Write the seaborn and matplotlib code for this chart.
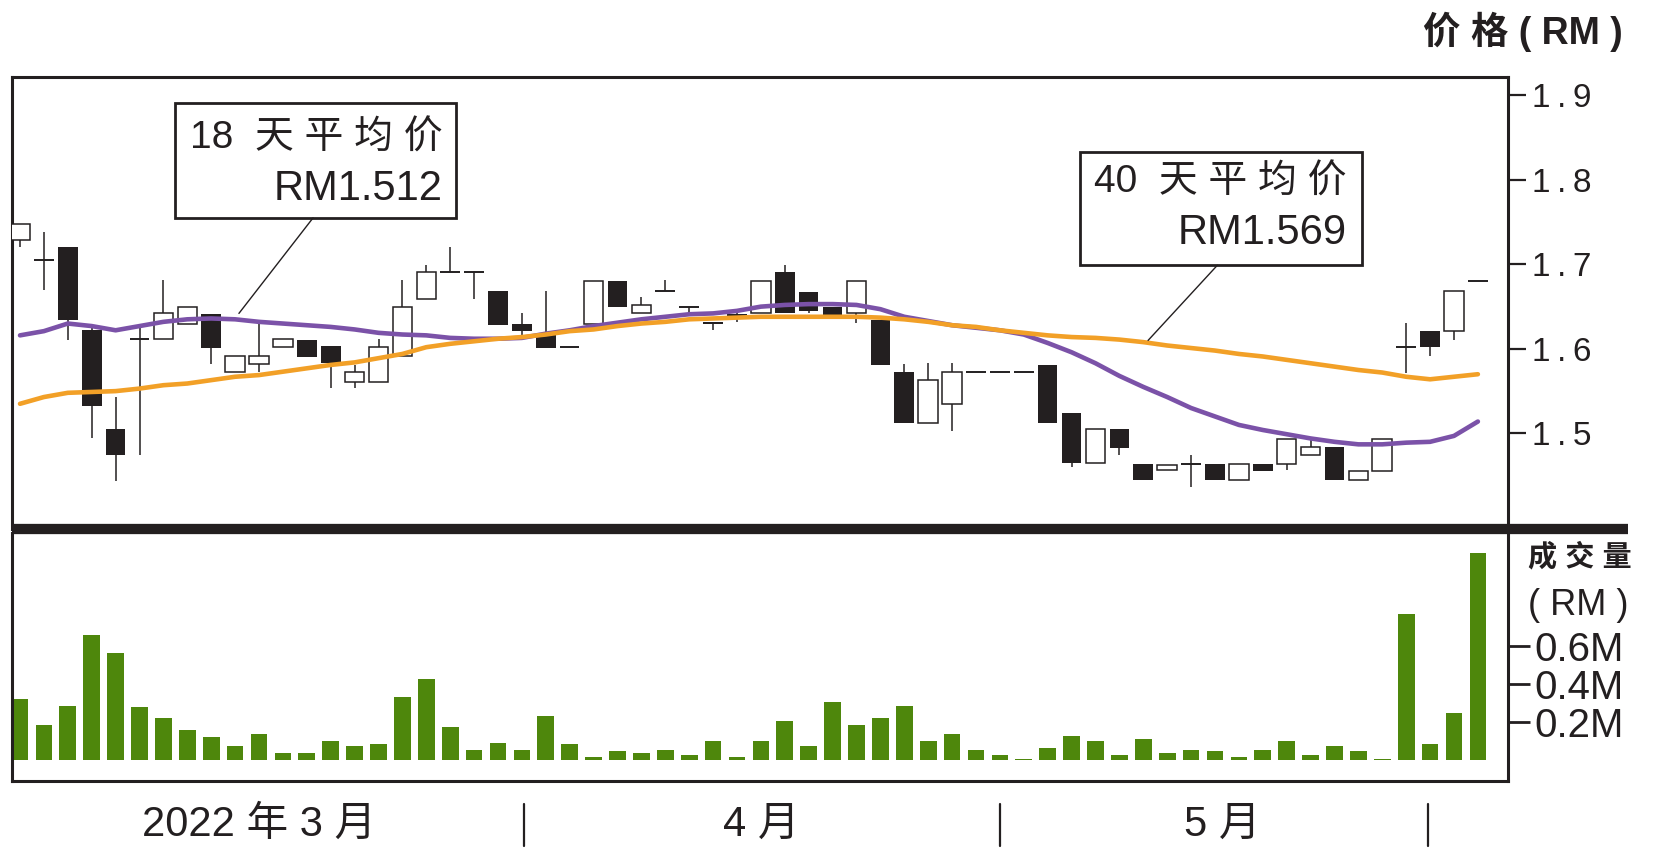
import matplotlib
matplotlib.use('Agg')
import matplotlib.pyplot as plt
import matplotlib.transforms as mtransforms
from matplotlib.lines import Line2D
from matplotlib.patches import Rectangle
import seaborn as sns
import numpy as np

# ---- data ----
open_ = [1.729, 1.705, 1.720, 1.622, 1.505, 1.612, 1.612, 1.629, 1.641, 1.573,
         1.582, 1.602, 1.611, 1.603, 1.561, 1.561, 1.592, 1.659, 1.691, 1.691,
         1.669, 1.630, 1.616, 1.602, 1.630, 1.680, 1.642, 1.669, 1.650, 1.632,
         1.640, 1.642, 1.691, 1.667, 1.650, 1.642, 1.634, 1.573, 1.512, 1.535,
         1.573, 1.573, 1.573, 1.581, 1.524, 1.465, 1.505, 1.464, 1.457, 1.464,
         1.464, 1.445, 1.464, 1.464, 1.474, 1.484, 1.445, 1.456, 1.602, 1.621,
         1.621, 1.680]
high = [1.748, 1.738, 1.720, 1.627, 1.543, 1.628, 1.681, 1.650, 1.641, 1.592,
        1.631, 1.612, 1.611, 1.603, 1.581, 1.612, 1.681, 1.699, 1.721, 1.691,
        1.669, 1.642, 1.669, 1.602, 1.680, 1.680, 1.661, 1.681, 1.650, 1.632,
        1.646, 1.680, 1.699, 1.667, 1.650, 1.680, 1.634, 1.582, 1.583, 1.583,
        1.573, 1.573, 1.573, 1.581, 1.524, 1.505, 1.505, 1.464, 1.463, 1.474,
        1.464, 1.464, 1.464, 1.493, 1.493, 1.484, 1.456, 1.493, 1.631, 1.621,
        1.669, 1.680]
low = [1.721, 1.670, 1.611, 1.494, 1.444, 1.474, 1.612, 1.629, 1.582, 1.573,
       1.573, 1.602, 1.590, 1.554, 1.554, 1.561, 1.592, 1.659, 1.691, 1.659,
       1.628, 1.612, 1.601, 1.602, 1.630, 1.650, 1.642, 1.669, 1.642, 1.622,
       1.632, 1.642, 1.642, 1.642, 1.640, 1.631, 1.581, 1.512, 1.512, 1.503,
       1.573, 1.573, 1.573, 1.512, 1.460, 1.465, 1.474, 1.445, 1.457, 1.437,
       1.445, 1.445, 1.456, 1.457, 1.474, 1.445, 1.445, 1.456, 1.571, 1.592,
       1.611, 1.680]
close = [1.748, 1.705, 1.634, 1.532, 1.474, 1.612, 1.642, 1.650, 1.601, 1.592,
         1.592, 1.612, 1.590, 1.583, 1.573, 1.602, 1.650, 1.691, 1.691, 1.691,
         1.628, 1.621, 1.601, 1.602, 1.680, 1.650, 1.652, 1.669, 1.650, 1.629,
         1.640, 1.680, 1.642, 1.645, 1.640, 1.680, 1.581, 1.512, 1.563, 1.573,
         1.573, 1.573, 1.573, 1.512, 1.465, 1.505, 1.483, 1.445, 1.463, 1.464,
         1.445, 1.464, 1.456, 1.493, 1.484, 1.445, 1.456, 1.493, 1.602, 1.602,
         1.669, 1.680]
ma18 = [1.616, 1.621, 1.630, 1.627, 1.622, 1.627, 1.632, 1.635, 1.636, 1.635,
        1.632, 1.630, 1.628, 1.626, 1.623, 1.619, 1.617, 1.616, 1.613, 1.612,
        1.612, 1.613, 1.618, 1.622, 1.627, 1.631, 1.635, 1.638, 1.641, 1.642,
        1.645, 1.650, 1.652, 1.653, 1.653, 1.652, 1.647, 1.638, 1.633, 1.628,
        1.625, 1.622, 1.617, 1.607, 1.596, 1.583, 1.568, 1.555, 1.543, 1.530,
        1.520, 1.510, 1.504, 1.499, 1.494, 1.490, 1.487, 1.487, 1.489, 1.490,
        1.497, 1.514]
ma40 = [1.535, 1.543, 1.548, 1.549, 1.550, 1.553, 1.557, 1.559, 1.563, 1.567,
        1.569, 1.573, 1.577, 1.581, 1.584, 1.589, 1.594, 1.602, 1.606, 1.609,
        1.612, 1.614, 1.617, 1.621, 1.623, 1.627, 1.630, 1.632, 1.635, 1.636,
        1.637, 1.638, 1.638, 1.638, 1.638, 1.638, 1.637, 1.635, 1.632, 1.628,
        1.626, 1.622, 1.619, 1.616, 1.614, 1.613, 1.611, 1.608, 1.604, 1.601,
        1.598, 1.594, 1.591, 1.587, 1.583, 1.579, 1.575, 1.572, 1.567, 1.564,
        1.567, 1.570]
volume = [0.321, 0.184, 0.286, 0.658, 0.565, 0.279, 0.221, 0.158, 0.121, 0.074,
          0.139, 0.035, 0.037, 0.102, 0.074, 0.084, 0.332, 0.428, 0.174, 0.054,
          0.091, 0.054, 0.232, 0.084, 0.018, 0.047, 0.037, 0.054, 0.028, 0.102,
          0.018, 0.102, 0.205, 0.074, 0.307, 0.184, 0.221, 0.286, 0.102, 0.139,
          0.054, 0.028, 0.004, 0.063, 0.128, 0.102, 0.026, 0.111, 0.037, 0.054,
          0.047, 0.018, 0.054, 0.102, 0.026, 0.074, 0.047, 0.007, 0.768, 0.084,
          0.247, 1.089]
price_ticks = [1.5, 1.6, 1.7, 1.8, 1.9]
price_labels = ['1.5', '1.6', '1.7', '1.8', '1.9']
vol_ticks = [0.2, 0.4, 0.6]
vol_labels = ['0.2M', '0.4M', '0.6M']
month_labels = ['2022 年 3 月', '4 月', '5 月']
month_pos = [10.0, 31.0, 50.3]
month_breaks = [21.1, 41.0, 58.9]

dark = '#231f20'
purple = '#7b52a8'
orange = '#f2a027'
green = '#4e870c'

sns.set_style('white')
plt.rcParams['font.family'] = ['Liberation Sans', 'Noto Sans CJK SC']

fig = plt.figure(figsize=(16.55, 8.55), dpi=100)
W, H = 1655.0, 855.0
x_left, x_right = 12, 1508
ax_p = fig.add_axes([x_left / W, 1 - 528.5 / H, (x_right - x_left) / W, (528.5 - 77) / H])
ax_v = fig.add_axes([x_left / W, 1 - 781 / H, (x_right - x_left) / W, (781 - 533) / H])

xs = np.arange(len(open_))
o = np.array(open_)
c = np.array(close)
hi = np.array(high)
lo = np.array(low)
body_lo = np.minimum(o, c)
body_hi = np.maximum(o, c)
up = c > o
down = c < o
flat = c == o
bw = 0.82

# candles
ax_p.vlines(xs, lo, hi, color=dark, lw=1.1, zorder=2)
ax_p.bar(xs[down], (body_hi - body_lo)[down], bottom=body_lo[down], width=bw,
         color=dark, linewidth=0, zorder=3)
ax_p.bar(xs[up], (body_hi - body_lo)[up], bottom=body_lo[up], width=bw,
         facecolor='white', edgecolor=dark, linewidth=1.1, zorder=3)
ax_p.hlines(c[flat], xs[flat] - bw / 2, xs[flat] + bw / 2, color=dark, lw=1.4, zorder=3)

# moving averages
sns.lineplot(x=xs, y=ma18, color=purple, linewidth=3.3, ax=ax_p, zorder=4)
sns.lineplot(x=xs, y=ma40, color=orange, linewidth=3.3, ax=ax_p, zorder=4)

ax_p.set_xlim(-0.335, 62.26)
ax_p.set_ylim(1.3874, 1.9218)
ax_p.set_xticks([])
ax_p.yaxis.tick_right()
ax_p.set_yticks(price_ticks)
ax_p.set_yticklabels([t.replace('.', '\u2009.\u2009') for t in price_labels])
ax_p.tick_params(axis='y', direction='out', length=13, width=1.6, pad=4,
                 labelsize=24, colors=dark, right=True, left=False)
ax_p.set_xlabel('')
ax_p.set_ylabel('')
for side in ['top', 'left', 'right']:
    ax_p.spines[side].set_linewidth(2.2)
    ax_p.spines[side].set_color(dark)
ax_p.spines['bottom'].set_visible(False)

# annotation boxes
ax_p.add_patch(Rectangle((6.49, 1.755), 18.24 - 6.49, 1.891 - 1.755, facecolor='white',
                         edgecolor=dark, linewidth=2.0, zorder=6))
ax_p.text(17.7, 1.8495, '18  天 平 均 价', ha='right', va='center', fontsize=28,
          color=dark, zorder=7)
ax_p.text(17.7, 1.789, 'RM1.512', ha='right', va='center', fontsize=30, color=dark, zorder=7)
ax_p.plot([12.26, 9.16], [1.755, 1.642], color=dark, lw=1.0, zorder=6)

ax_p.add_patch(Rectangle((44.35, 1.699), 56.15 - 44.35, 1.833 - 1.699, facecolor='white',
                         edgecolor=dark, linewidth=2.0, zorder=6))
ax_p.text(55.5, 1.797, '40  天 平 均 价', ha='right', va='center', fontsize=28,
          color=dark, zorder=7)
ax_p.text(55.5, 1.737, 'RM1.569', ha='right', va='center', fontsize=30, color=dark, zorder=7)
ax_p.plot([50.1, 47.2], [1.699, 1.610], color=dark, lw=1.0, zorder=6)

# volume
sns.barplot(x=xs, y=volume, native_scale=True, color=green, saturation=1, width=0.7,
            linewidth=0, errorbar=None, ax=ax_v)
ax_v.set_xlim(-0.335, 62.26)
ax_v.set_ylim(-0.1105, 1.195)
ax_v.set_xticks([])
ax_v.set_xlabel('')
ax_v.set_ylabel('')
ax_v.yaxis.tick_right()
ax_v.set_yticks(vol_ticks)
ax_v.set_yticklabels(vol_labels)
ax_v.tick_params(axis='y', direction='out', length=16, width=2.0, pad=3,
                 labelsize=29, colors=dark, right=True, left=False)
for side in ['bottom', 'left', 'right']:
    ax_v.spines[side].set_linewidth(2.2)
    ax_v.spines[side].set_color(dark)
ax_v.spines['top'].set_visible(False)

# thick separator between the panels
fig.add_artist(Line2D([x_left / W, 1628 / W], [1 - 528.5 / H, 1 - 528.5 / H],
                      color=dark, lw=7.4, solid_capstyle='butt'))

# month labels and breaks under the chart
trans = mtransforms.blended_transform_factory(ax_v.transData, fig.transFigure)
for lab, pos in zip(month_labels, month_pos):
    fig.text(pos, 1 - 825 / H, lab, transform=trans, ha='center', va='center',
             fontsize=30, color=dark)
for b in month_breaks:
    fig.add_artist(Line2D([b, b], [1 - 804 / H, 1 - 846 / H], transform=trans,
                          color=dark, lw=1.6))

# axis titles
fig.text(1623 / W, 1 - 32 / H, '价 格 ( RM )', ha='right', va='center', fontsize=27,
         fontweight='bold', color=dark)
fig.text(1580 / W, 1 - 557 / H, '成 交 量', ha='center', va='center', fontsize=21,
         fontweight='bold', color=dark)
fig.text(1578 / W, 1 - 605 / H, '( RM )', ha='center', va='center', fontsize=26,
         color=dark)

fig.savefig('out.png', dpi=100, facecolor='white')
